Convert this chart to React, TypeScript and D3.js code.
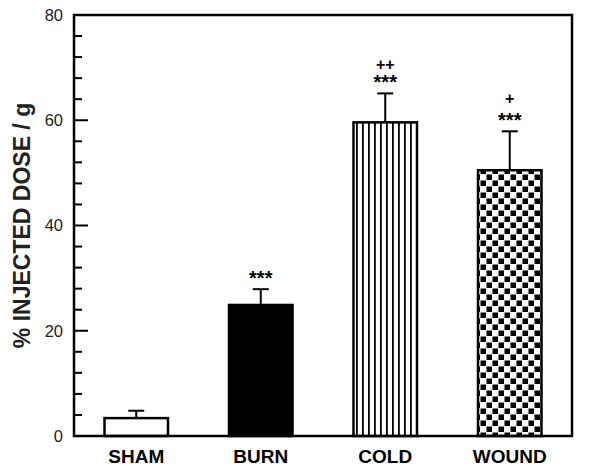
import React from "react";
import * as d3 from "d3";

const categories = ["SHAM", "BURN", "COLD", "WOUND"];
const means = [3.4, 24.9, 59.6, 50.5];
const errors = [1.4, 3.0, 5.5, 7.4];
const stars = ["", "***", "***", "***"];
const plusMarks = ["", "", "++", "+"];
const fills = ["white", "black", "url(#vstripe)", "url(#checker)"];
const majorTicks = [0, 20, 40, 60, 80];
const minorTicks = d3.range(0, 81, 4).filter((v) => v % 20 !== 0);

const W = 600;
const H = 475;
const M = { left: 74, right: 28, top: 15, bottom: 39 };

export default function App() {
  const x = d3
    .scaleBand<string>()
    .domain(categories)
    .range([M.left, W - M.right])
    .paddingInner(0.49)
    .paddingOuter(0.245);
  const y = d3.scaleLinear().domain([0, 80]).range([H - M.bottom, M.top]);
  const font = "'Liberation Sans', Arial, sans-serif";
  const bw = x.bandwidth();

  return (
    <svg
      width={W}
      height={H}
      style={{ position: "absolute", left: 0, top: 0, background: "white" }}
      fontFamily={font}
    >
      <defs>
        <pattern id="vstripe" patternUnits="userSpaceOnUse" width={6} height={10}>
          <rect width={6} height={10} fill="white" />
          <rect x={2} width={1.8} height={10} fill="black" />
        </pattern>
        <pattern id="checker" patternUnits="userSpaceOnUse" width={12} height={12}>
          <rect width={12} height={12} fill="white" />
          <rect x={0.5} y={0.5} width={5.5} height={5.5} fill="black" />
          <rect x={6.5} y={6.5} width={5.5} height={5.5} fill="black" />
        </pattern>
      </defs>

      {/* ticks */}
      {majorTicks.map((t) => (
        <g key={"M" + t}>
          <line x1={M.left} x2={M.left + 14} y1={y(t)} y2={y(t)} stroke="black" strokeWidth={2} />
          <text x={63} y={y(t)} dy="0.36em" textAnchor="end" fontSize={16.5} fill="#222">
            {t}
          </text>
        </g>
      ))}
      {minorTicks.map((t) => (
        <line key={"m" + t} x1={M.left} x2={M.left + 8} y1={y(t)} y2={y(t)} stroke="black" strokeWidth={2} />
      ))}

      {/* bars */}
      {categories.map((c, i) => {
        const x0 = x(c)!;
        const cx = x0 + bw / 2;
        const top = y(means[i] + errors[i]);
        return (
          <g key={c}>
            <line x1={cx} x2={cx} y1={y(means[i])} y2={top} stroke="black" strokeWidth={2} />
            <line x1={cx - 8} x2={cx + 8} y1={top} y2={top} stroke="black" strokeWidth={2} />
            <rect
              x={x0}
              y={y(means[i])}
              width={bw}
              height={y(0) - y(means[i])}
              fill={fills[i]}
              stroke="black"
              strokeWidth={2.5}
            />
            {stars[i] && (
              <text x={cx} y={top - 16} textAnchor="middle" fontSize={20} fontWeight="bold" dy="0.6em">
                {stars[i]}
              </text>
            )}
            {plusMarks[i] && (
              <text x={cx} y={top - (i === 2 ? 29 : 33)} textAnchor="middle" fontSize={16} fontWeight="bold" dy="0.35em">
                {plusMarks[i]}
              </text>
            )}
            <text x={cx} y={463} textAnchor="middle" fontSize={19} fontWeight="bold">
              {c}
            </text>
          </g>
        );
      })}

      {/* frame */}
      <rect
        x={M.left}
        y={M.top}
        width={W - M.left - M.right}
        height={H - M.top - M.bottom}
        fill="none"
        stroke="black"
        strokeWidth={2.5}
      />

      <text
        transform={`translate(30, ${(M.top + H - M.bottom) / 2}) rotate(-90)`}
        textAnchor="middle"
        fontSize={23}
        fontWeight="bold"
        fill="#222"
      >
        % INJECTED DOSE / g
      </text>
    </svg>
  );
}
